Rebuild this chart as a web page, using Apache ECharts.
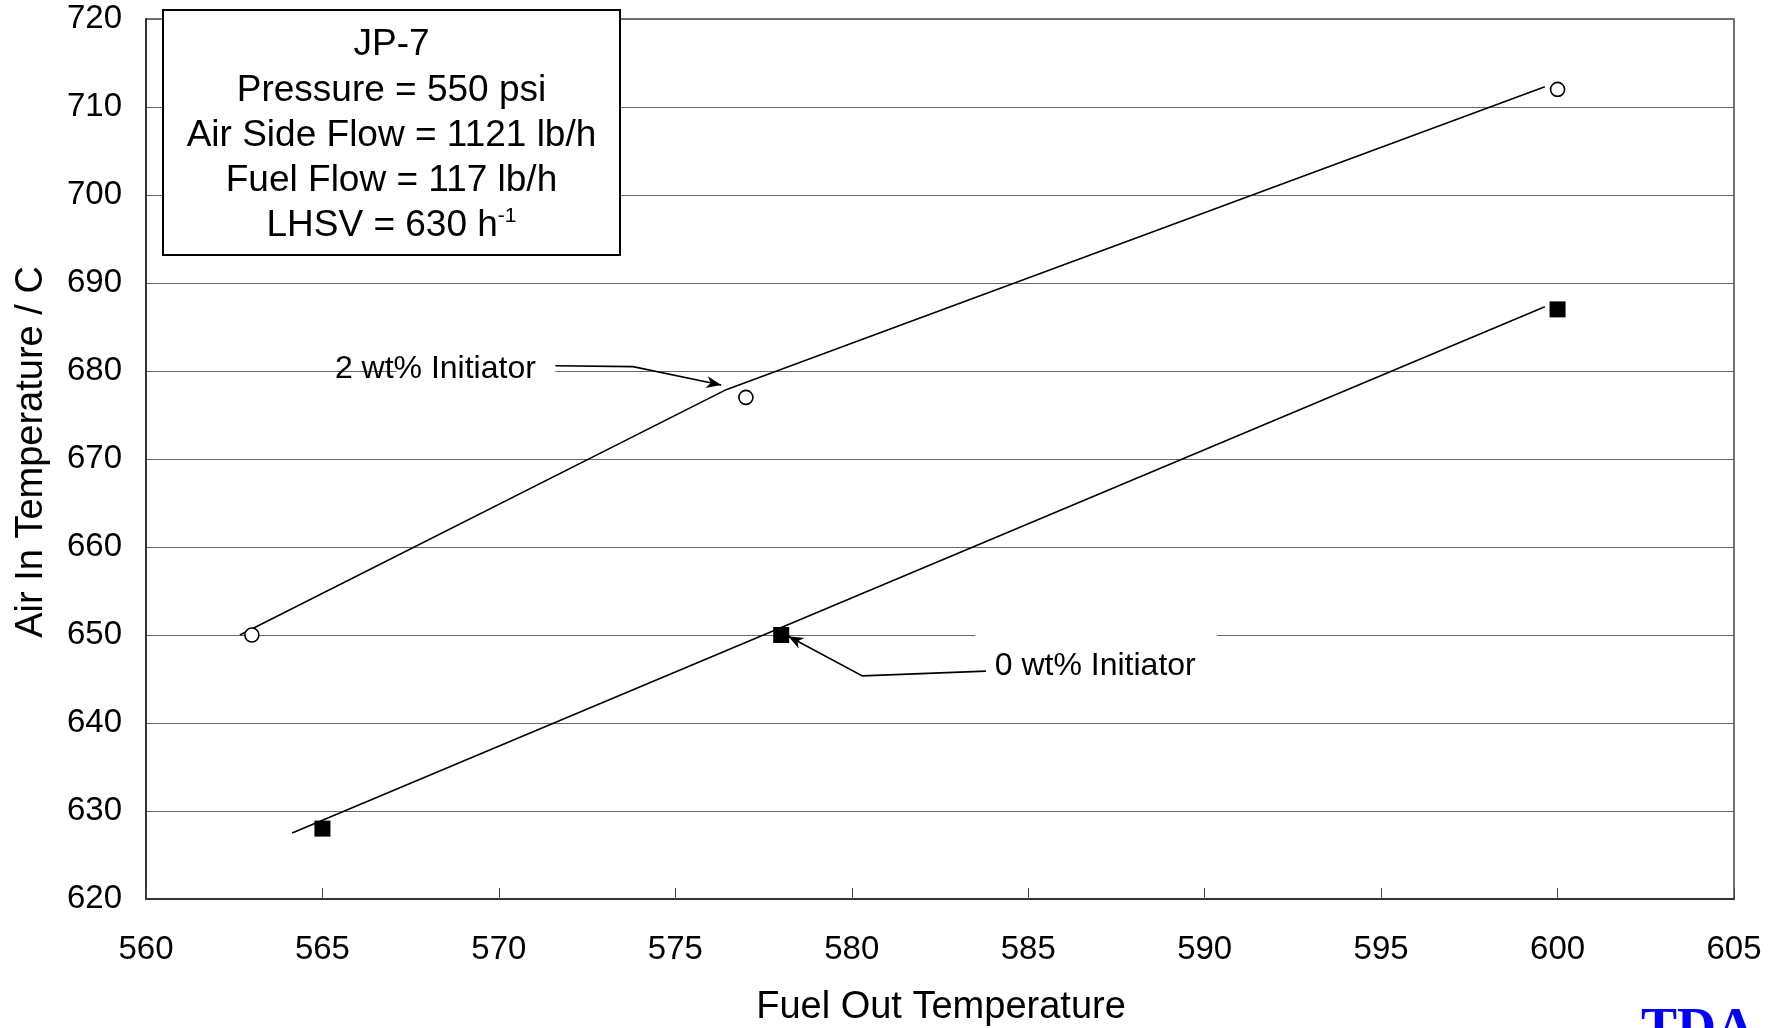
<!DOCTYPE html>
<html><head><meta charset="utf-8">
<script src="https://cdn.jsdelivr.net/npm/echarts@6/dist/echarts.min.js"></script>
<style>html,body{margin:0;padding:0;background:#fff;} #c{width:1775px;height:1028px;}</style>
</head><body><div id="c"></div>
<script>
// ---- data ----
const initiator2X = [563, 577, 600];
const initiator2Y = [650, 677, 712];
const initiator0X = [565, 578, 600];
const initiator0Y = [628, 650, 687];
// drawn trend lines (endpoints / kink)
const fit2X = [562.66, 576.4, 599.64];
const fit2Y = [650.0, 677.8, 712.3];
const fit0X = [564.14, 599.64];
const fit0Y = [627.5, 687.3];
const xTickValues = [560, 565, 570, 575, 580, 585, 590, 595, 600, 605];
const yTickValues = [620, 630, 640, 650, 660, 670, 680, 690, 700, 710, 720];
const infoLines = ['JP-7', 'Pressure = 550 psi', 'Air Side Flow = 1121 lb/h', 'Fuel Flow = 117 lb/h'];
const lhsvText = 'LHSV = 630 h';
const lhsvSup = '-1';
const xTitle = 'Fuel Out Temperature';
const yTitle = 'Air In Temperature / C';
const label2 = '2 wt% Initiator';
const label0 = '0 wt% Initiator';

const zip = (a, b) => a.map((v, i) => [v, b[i]]);
const FONT = '"Liberation Sans", Arial, Helvetica, sans-serif';

const chart = echarts.init(document.getElementById('c'));
chart.setOption({
  animation: false,
  grid: { left: 146, top: 19, right: 41, bottom: 129, show: true, borderColor: '#444', borderWidth: 1.5 },
  xAxis: {
    type: 'value', min: xTickValues[0], max: xTickValues[xTickValues.length - 1], interval: 5,
    axisLine: { lineStyle: { color: '#333', width: 2 } },
    axisTick: { inside: true, length: 11, lineStyle: { color: '#444', width: 1 } },
    axisLabel: { fontSize: 33, color: '#000', margin: 34, fontFamily: FONT,
      formatter: v => xTickValues.includes(v) ? String(v) : '' },
    splitLine: { show: false }
  },
  yAxis: {
    type: 'value', min: yTickValues[0], max: yTickValues[yTickValues.length - 1], interval: 10,
    axisLine: { show: true, lineStyle: { color: '#333', width: 2 } },
    axisTick: { show: false },
    axisLabel: { fontSize: 33, color: '#000', margin: 24, fontFamily: FONT,
      formatter: v => yTickValues.includes(v) ? String(v) : '' },
    splitLine: { show: true, lineStyle: { color: '#666', width: 1.2 } }
  },
  series: [
    { type: 'line', data: zip(fit2X, fit2Y), showSymbol: false, lineStyle: { color: '#000', width: 1.6 }, z: 3, silent: true },
    { type: 'line', data: zip(fit0X, fit0Y), showSymbol: false, lineStyle: { color: '#000', width: 1.6 }, z: 3, silent: true },
    { type: 'scatter', data: zip(initiator2X, initiator2Y), symbol: 'circle', symbolSize: 14,
      itemStyle: { color: '#fff', borderColor: '#000', borderWidth: 1.6, opacity: 1 }, z: 5 },
    { type: 'scatter', data: zip(initiator0X, initiator0Y), symbol: 'rect', symbolSize: 16,
      itemStyle: { color: '#000', opacity: 1 }, z: 5 }
  ]
});

const px = (x, y) => chart.convertToPixel({ gridIndex: 0 }, [x, y]);
function arrowHead(tip, from, len, halfW) {
  const dx = tip[0] - from[0], dy = tip[1] - from[1];
  const L = Math.hypot(dx, dy), ux = dx / L, uy = dy / L, nx = -uy, ny = ux;
  const bx = tip[0] - ux * len, by = tip[1] - uy * len;
  const mx = tip[0] - ux * len * 0.7, my = tip[1] - uy * len * 0.7;
  return [tip, [bx + nx * halfW, by + ny * halfW], [mx, my], [bx - nx * halfW, by - ny * halfW]];
}

const graphic = [];
// info box
const bx0 = 163, by0 = 10, bw = 457, bh = 245;
graphic.push({ type: 'rect', shape: { x: bx0, y: by0, width: bw, height: bh }, style: { fill: '#fff', stroke: '#000', lineWidth: 2 }, z: 20 });
const lineCenters = [45, 91, 136, 181];
infoLines.forEach((t, i) => graphic.push({ type: 'text', x: bx0 + bw / 2, y: lineCenters[i], z: 21,
  style: { text: t, font: '37px ' + FONT, fill: '#000', align: 'center', verticalAlign: 'middle' } }));
graphic.push({ type: 'text', x: bx0 + bw / 2, y: 226, z: 21,
  style: { text: '{a|' + lhsvText + '}{s|' + lhsvSup + '}', align: 'center', verticalAlign: 'middle',
    rich: { a: { fontSize: 37, fontFamily: FONT, fill: '#000', lineHeight: 40 },
            s: { fontSize: 21, fontFamily: FONT, fill: '#000', verticalAlign: 'top', lineHeight: 40 } } } });

// annotation 2 wt%
{
  const g0 = px(567.1, 680), g1 = px(571.6, 680);
  graphic.push({ type: 'rect', shape: { x: g0[0], y: g0[1] - 14, width: g1[0] - g0[0], height: 28 }, style: { fill: '#fff' }, z: 10 });
  const c = px(568.2, 680.2);
  graphic.push({ type: 'text', x: c[0], y: c[1], z: 11, style: { text: label2, font: '32px ' + FONT, fill: '#000', align: 'center', verticalAlign: 'middle' } });
  const pts = [px(571.6, 680.6), px(573.8, 680.5), px(576.3, 678.4)];
  graphic.push({ type: 'polyline', shape: { points: pts }, style: { stroke: '#000', lineWidth: 1.6, fill: null }, z: 11 });
  graphic.push({ type: 'polygon', shape: { points: arrowHead(pts[2], pts[1], 15, 6) }, style: { fill: '#000' }, z: 11 });
}
// annotation 0 wt%
{
  const g0 = px(583.5, 650), g1 = px(590.35, 650);
  graphic.push({ type: 'rect', shape: { x: g0[0], y: g0[1] - 2, width: g1[0] - g0[0], height: 40 }, style: { fill: '#fff' }, z: 10 });
  const c = px(586.9, 646.5);
  graphic.push({ type: 'text', x: c[0], y: c[1], z: 11, style: { text: label0, font: '32px ' + FONT, fill: '#000', align: 'center', verticalAlign: 'middle' } });
  const pts = [px(583.8, 645.9), px(580.3, 645.35), px(578.2, 649.86)];
  graphic.push({ type: 'polyline', shape: { points: pts }, style: { stroke: '#000', lineWidth: 1.6, fill: null }, z: 11 });
  graphic.push({ type: 'polygon', shape: { points: arrowHead(pts[2], pts[1], 15, 6) }, style: { fill: '#000' }, z: 11 });
}
// axis titles
graphic.push({ type: 'text', x: 941, y: 1008, z: 11, style: { text: xTitle, font: '38px ' + FONT, fill: '#000', align: 'center', verticalAlign: 'middle' } });
graphic.push({ type: 'text', x: 32, y: 452, rotation: Math.PI / 2, z: 11, style: { text: yTitle, font: '38px ' + FONT, fill: '#000', align: 'center', verticalAlign: 'middle' } });
// logo text (cut off at bottom)
graphic.push({ type: 'text', x: 1641, y: 1004, z: 11, style: { text: 'TDA', font: 'bold 54px "Liberation Serif", "Times New Roman", serif', fill: '#0000ff', align: 'left', verticalAlign: 'top' } });

chart.setOption({ graphic: graphic });
</script>
</body></html>
